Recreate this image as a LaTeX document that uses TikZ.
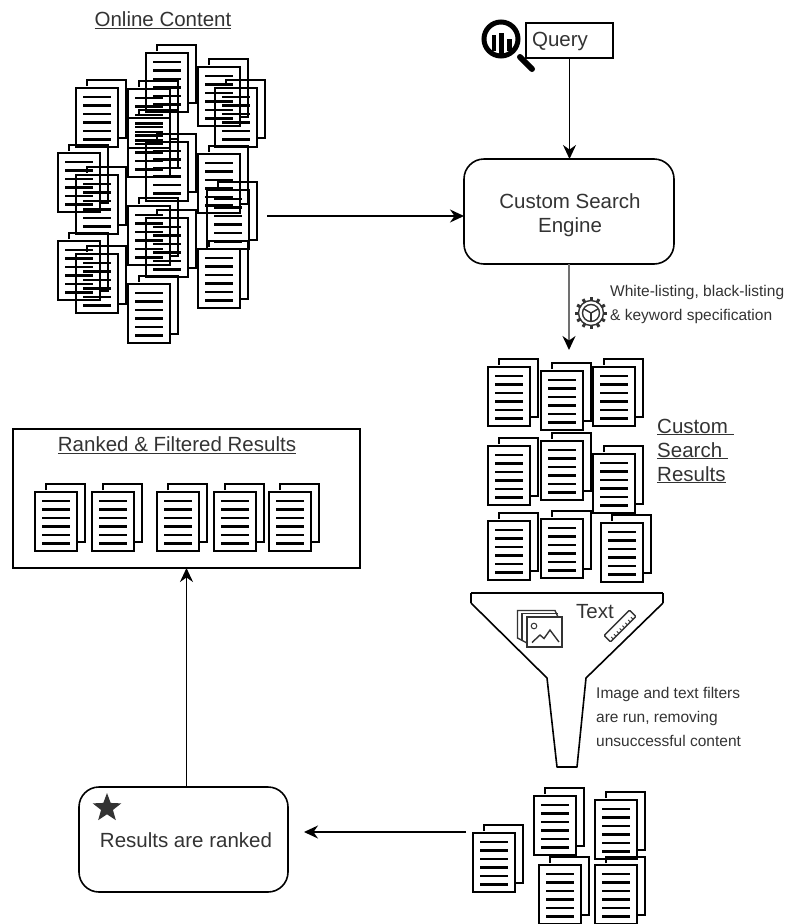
\documentclass[tikz,border=0pt]{standalone}
\usepackage{fontspec}
\setmainfont{Liberation Sans}
\usetikzlibrary{arrows.meta,shapes.geometric}
\definecolor{inkgrey}{HTML}{333333}
\tikzset{
  docpage/.pic={
    \draw[line width=2.8pt] (0,0) rectangle (42,59);
    \draw[line width=2.4pt] (11,-2) -- (11,-8) -- (50,-8) -- (50,50) -- (43,50);
    \foreach \k in {9,17.5,26,34.5,43,51.5} \draw[line width=2.4pt] (7,\k) -- (35,\k);
  },
  biglabel/.style={font=\fontsize{20.5}{24}\selectfont, text=inkgrey, inner sep=0pt, align=center},
  smalllabel/.style={font=\fontsize{15.5}{24}\selectfont, text=inkgrey, inner sep=0pt, align=left, anchor=west},
  squarebox/.style={draw, line width=1.6pt, outer sep=0pt, inner sep=0pt},
  roundbox/.style={squarebox, rounded corners=20pt},
  flowarrow/.style={-{Stealth[length=14pt,width=13pt,black]}, line width=1.6pt},
}
\begin{document}
\begin{tikzpicture}[x=1pt,y=-1pt]
\useasboundingbox (0,0) rectangle (788,924);

% online content
\node[biglabel] at (163,20) (onlinetitle) {\underline{Online Content}};
\foreach \x/\y in {76/88,146/53,198/67,215/88,128/89,128/118,146/142,58/153,76/175,198/154,207/190,128/206,146/218,58/241,76/254,198/249,128/284}
  \pic at (\x,\y) {docpage};
\coordinate (onlineout) at (267,216);

% query and engine
\node[squarebox, minimum width=87pt, minimum height=35pt] at (569.5,40.5) (query) {};
\node[biglabel] at (560,41) (querytext) {Query};
\node[roundbox, minimum width=210pt, minimum height=105pt] at (569,211.5) (engine) {};
\node[biglabel] at (570,215) (enginetext) {Custom Search\\Engine};
\draw[flowarrow] (query) -- (query |- engine.north);
\draw[flowarrow] (onlineout) -- (onlineout -| engine.west);

% magnifier
\draw[line width=5pt] (501,39) circle (17);
\draw[line width=6pt, line cap=round] (520,57) -- (532,69);
\fill (491.5,35) rectangle (496,51);
\fill (499,33) rectangle (504,54);
\fill (507,39) rectangle (511.5,51);

% gear
\draw[inkgrey, line width=1.4pt] (591,313) circle (12.5) (591,313) circle (8.5);
\foreach \a in {0,30,...,330} \draw[inkgrey, line width=3pt] (591,313) ++(\a:12) -- ++(\a:4);
\foreach \a in {90,210,330} \draw[inkgrey, line width=1.4pt] (591,313) -- ++(\a:8.5);

% custom search results
\coordinate (resultsin) at (569,350);
\draw[flowarrow, draw=inkgrey!70, line width=1.8pt] (engine) -- (resultsin);
\node[smalllabel] at (610,304) (filtertext) {White-listing, black-listing\\\& keyword specification};
\foreach \x/\y in {488/367,541/371,593/367,488/446,541/441,593/454,488/521,541/519,601/523}
  \pic at (\x,\y) {docpage};
\node[biglabel, align=left, anchor=west] at (657,451) (customtitle) {\underline{Custom\ }\\\underline{Search\ }\\\underline{Results}};

% funnel
\draw[line width=1.6pt, line join=round] (471,603) -- (547,678) -- (557,767) -- (577,767) -- (586,678) -- (663,603);
\draw[line width=2.8pt] (471,593) -- (663,593);
\draw[line width=1.6pt] (471,593) -- (471,603) (663,593) -- (663,603);
\node[biglabel] at (595,612) (funneltext) {Text};
\node[smalllabel] at (596,717) (funnelnote) {Image and text filters\\are run, removing\\unsuccessful content};

% image icon
\draw[inkgrey, line width=1.4pt] (527,617) rectangle (562,647);
\draw[inkgrey, line width=1.4pt] (527,643) -- (517.5,638) -- (517.5,610.5) -- (555,610.5) -- (558,617);
\draw[inkgrey, line width=1.4pt] (522,640) -- (522,613.5) -- (558,613.5);
\draw[inkgrey, line width=1.4pt] (532,642.5) -- (540,635) -- (544,638.5) -- (550,630) -- (559,642);
\draw[inkgrey, line width=1pt] (534,626) circle (2.8);

% ruler icon
\begin{scope}[shift={(620,626)}, rotate=45]
\draw[inkgrey, line width=1.4pt, rounded corners=1pt] (-18,-4.5) rectangle (18,4.5);
\foreach \k in {-14,-10,...,14} \draw[inkgrey, line width=0.9pt] (\k,4.5) -- (\k,1.5);
\end{scope}

% last documents and ranking
\foreach \x/\y in {473/833,534/796,595/800,539/865,595/865}
  \pic at (\x,\y) {docpage};
\coordinate (lastout) at (466,832);
\coordinate (rankin) at (304,832);
\node[roundbox, minimum width=209pt, minimum height=105pt] at (183.5,839.5) (rankbox) {};
\node[biglabel] at (186,840) (ranktext) {Results are ranked};
\node[star, star points=5, star point ratio=2.4, fill=inkgrey, inner sep=0pt, minimum size=30pt] at (107,808) (rankstar) {};
\draw[flowarrow] (lastout) -- (rankin);

% ranked and filtered results
\node[squarebox, minimum width=347pt, minimum height=139pt] at (186.5,498.5) (filtered) {};
\node[biglabel] at (177,445) (filteredtitle) {\underline{Ranked \& Filtered Results}};
\foreach \x in {35,92,157,214,269}
  \pic at (\x,492) {docpage};
\draw[flowarrow] (filtered |- rankbox.north) -- (filtered.south);
\end{tikzpicture}
\end{document}
